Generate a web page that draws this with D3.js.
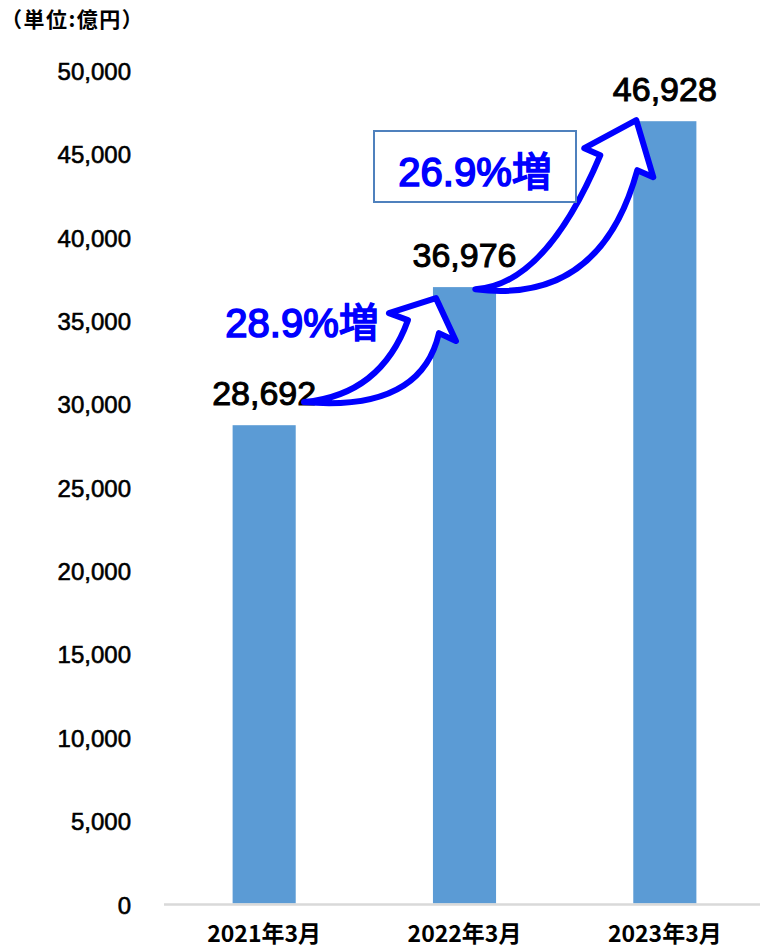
<!DOCTYPE html>
<html>
<head>
<meta charset="utf-8">
<script src="https://cdn.jsdelivr.net/npm/d3@7/dist/d3.min.js"></script>
<style>
  body { margin: 0; background: #fff; }
  svg text { font-family: "Liberation Sans", Arial, "Noto Sans CJK JP", sans-serif; }
</style>
</head>
<body>
<div id="chart"></div>
<script>
// data
var categories = ["2021年3月", "2022年3月", "2023年3月"];
var values = [28692, 36976, 46928];
var yTicks = [0, 5000, 10000, 15000, 20000, 25000, 30000, 35000, 40000, 45000, 50000];
var unitLabel = "（単位:億円）";

var width = 760, height = 948;
var margin = { top: 70, left: 164, right: -5, bottom: 44.5 };

var svg = d3.select("#chart")
	.append("svg")
	.attr("width", width)
	.attr("height", height);

var x = d3.scaleBand()
	.domain(categories)
	.range([margin.left, width - margin.right])
	.paddingInner(0.685)
	.paddingOuter(0.3425);

var y = d3.scaleLinear()
	.domain([0, 50000])
	.range([height - margin.bottom, margin.top]);

var fmt = d3.format(",");

// unit label
svg.append("text")
	.attr("x", 1)
	.attr("y", 27)
	.attr("font-size", 21)
	.attr("font-weight", "bold")
	.attr("letter-spacing", 1.5)
	.style("font-family", "'Noto Sans CJK JP', sans-serif")
	.text(unitLabel);

// y tick labels
svg.selectAll(".ytick")
	.data(yTicks)
	.enter().append("text")
	.attr("class", "ytick")
	.attr("x", 131)
	.attr("y", function(d) { return y(d) + 10; })
	.attr("text-anchor", "end")
	.attr("font-size", 24)
	.attr("fill", "#000")
	.attr("stroke", "#000")
	.attr("stroke-width", 0.6)
	.text(fmt);

// bars
svg.selectAll(".bar")
	.data(values)
	.enter().append("rect")
	.attr("class", "bar")
	.attr("x", function(d, i) { return x(categories[i]); })
	.attr("width", x.bandwidth())
	.attr("y", function(d) { return y(d); })
	.attr("height", function(d) { return y(0) - y(d); })
	.attr("fill", "#5B9BD5");

// baseline
svg.append("line")
	.attr("x1", margin.left)
	.attr("x2", width)
	.attr("y1", y(0) + 1)
	.attr("y2", y(0) + 1)
	.attr("stroke", "#D9D9D9")
	.attr("stroke-width", 2.5);

// x labels
svg.selectAll(".xlab")
	.data(categories)
	.enter().append("text")
	.attr("class", "xlab")
	.attr("x", function(d) { return x(d) + x.bandwidth() / 2; })
	.attr("y", 942)
	.attr("text-anchor", "middle")
	.attr("font-size", 23)
	.attr("font-weight", "bold")
	.style("font-family", "'Noto Sans CJK JP', sans-serif")
	.text(function(d) { return d; });

// value labels
svg.selectAll(".vlab")
	.data(values)
	.enter().append("text")
	.attr("class", "vlab")
	.attr("x", function(d, i) { return x(categories[i]) + x.bandwidth() / 2; })
	.attr("y", function(d) { return y(d) - 20; })
	.attr("text-anchor", "middle")
	.attr("font-size", 34)
	.attr("fill", "#000")
	.attr("stroke", "#000")
	.attr("stroke-width", 1)
	.text(fmt);

// growth arrows: shape offsets relative to the arrow tip
var arrowShapes = [
	{ tipDx: 3, tipDy: 11, T: [-132, 104], uc: [-55, 97], LN: [-28, 22], LB: [-47, 15], RB: [20, 43], RN: [3, 35], lc: [-15, 114] },
	{ tipDx: 3, tipDy: -1, T: [-161, 169], uc: [-91, 165], LN: [-36, 35], LB: [-52, 28], RB: [17, 57], RN: [1, 50], lc: [-36, 185] }
];

arrowShapes.forEach(function(s, i) {
	var px = x(categories[i + 1]) + s.tipDx,
		py = y(values[i + 1]) + s.tipDy;
	function p(o) { return [px + o[0], py + o[1]]; }
	var T = p(s.T), uc = p(s.uc), LN = p(s.LN), LB = p(s.LB), RB = p(s.RB), RN = p(s.RN), lc = p(s.lc);
	var path = d3.path();
	path.moveTo(T[0], T[1]);
	path.quadraticCurveTo(uc[0], uc[1], LN[0], LN[1]);
	path.lineTo(LB[0], LB[1]);
	path.lineTo(px, py);
	path.lineTo(RB[0], RB[1]);
	path.lineTo(RN[0], RN[1]);
	path.quadraticCurveTo(lc[0], lc[1], T[0], T[1]);
	path.closePath();
	svg.append("path")
		.attr("d", path.toString())
		.attr("fill", "#fff")
		.attr("stroke", "#0000FF")
		.attr("stroke-width", 6)
		.attr("stroke-linejoin", "round");
});

// growth texts
var growth = values.slice(1).map(function(v, i) {
	return d3.format(".1f")((v / values[i] - 1) * 100) + "%増";
});

// box behind the second growth text
svg.append("rect")
	.attr("x", 374)
	.attr("y", 131)
	.attr("width", 202)
	.attr("height", 71)
	.attr("fill", "#fff")
	.attr("stroke", "#4F81BD")
	.attr("stroke-width", 2);

var growthPos = [[302, 337], [475, 186]];
svg.selectAll(".grow")
	.data(growth)
	.enter().append("text")
	.attr("class", "grow")
	.attr("x", function(d, i) { return growthPos[i][0]; })
	.attr("y", function(d, i) { return growthPos[i][1]; })
	.attr("text-anchor", "middle")
	.attr("font-size", 40)
	.attr("fill", "#0000FF")
	.attr("stroke", "#0000FF")
	.attr("stroke-width", 1.6)
	.text(function(d) { return d; });
</script>
</body>
</html>
